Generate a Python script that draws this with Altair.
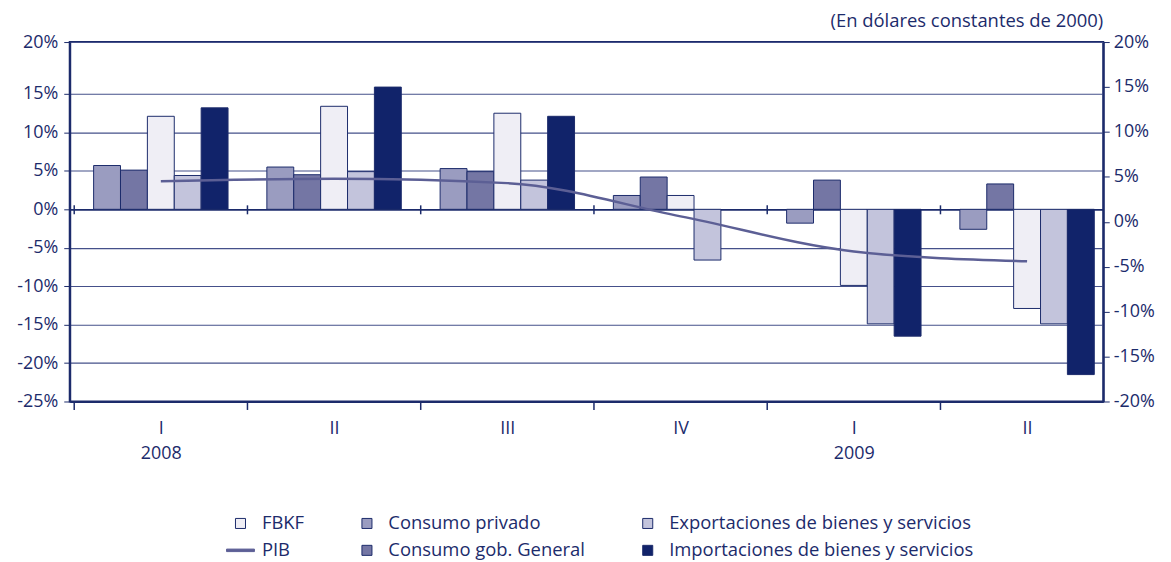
import altair as alt
import pandas as pd

# ---------------- data ----------------
quarters = ["I 2008", "II 2008", "III 2008", "IV 2008", "I 2009", "II 2009"]
consumo_privado = [5.7, 5.5, 5.3, 1.8, -1.8, -2.6]
consumo_gob = [5.1, 4.5, 4.9, 4.2, 3.8, 3.3]
fbkf = [12.1, 13.4, 12.5, 1.8, -9.9, -12.9]
exportaciones = [4.4, 4.9, 3.8, -6.6, -14.9, -14.9]
importaciones = [13.2, 15.9, 12.1, None, -16.5, -21.5]
pib = [4.5, 4.8, 4.3, 0.6, -3.3, -4.4]

S_FBKF = "FBKF"
S_CP = "Consumo privado"
S_EXP = "Exportaciones de bienes y servicios"
S_PIB = "PIB"
S_CG = "Consumo gob. General"
S_IMP = "Importaciones de bienes y servicios"

legend_order = [S_FBKF, S_CP, S_EXP, S_PIB, S_CG, S_IMP]
bar_order = [S_CP, S_CG, S_FBKF, S_EXP, S_IMP]
bar_values = {S_CP: consumo_privado, S_CG: consumo_gob, S_FBKF: fbkf,
              S_EXP: exportaciones, S_IMP: importaciones}

left_ticks = [-25, -20, -15, -10, -5, 0, 5, 10, 15, 21.76]
right_ticks = [-20, -15, -10, -5, 0, 5, 10, 15, 20]

# ---------------- styles ----------------
NAVY = "#1c2b6b"
PIB_COLOR = "#5c5f95"
FONT = "Open Sans"
FS = 18
fill_colors = ["#efeef5", "#9a9cc0", "#c3c4dc", PIB_COLOR, "#7476a4", "#11236a"]
stroke_colors = [NAVY, NAVY, NAVY, PIB_COLOR, NAVY, NAVY]
SQ = "M-0.36,-0.36L0.36,-0.36L0.36,0.36L-0.36,0.36Z"
LN = "M-1,-0.09L1,-0.09L1,0.09L-1,0.09Z"
shapes = [SQ, SQ, SQ, LN, SQ, SQ]

rows = []
for s in bar_order:
    for q, v in zip(quarters, bar_values[s]):
        if v is not None:
            rows.append({"trimestre": q, "serie": s, "valor": v})
df_bars = pd.DataFrame(rows)
df_pib = pd.DataFrame({"trimestre": quarters, "pib": pib, "serie": [S_PIB] * len(quarters)})
df_leg = pd.DataFrame({"serie": legend_order})

x_scale = alt.Scale(paddingInner=0.2241, paddingOuter=0.0948, align=0.727)
fill_scale = alt.Scale(domain=legend_order, range=fill_colors)
stroke_scale = alt.Scale(domain=legend_order, range=stroke_colors)
shape_scale = alt.Scale(domain=legend_order, range=shapes)


def make_legend():
    return alt.Legend(title=None, orient="none", legendX=157, legendY=469, columns=3,
                      direction="horizontal", columnPadding=48, rowPadding=3,
                      symbolSize=784, symbolStrokeWidth=1,
                      labelFontSize=18.5, labelColor=NAVY, labelFont=FONT, labelOffset=7,
                      labelLimit=400)


bars = alt.Chart(df_bars).mark_bar(strokeWidth=1).encode(
    x=alt.X("trimestre:N", sort=quarters, scale=x_scale,
            axis=alt.Axis(orient="bottom", title=None, labelAngle=0,
                          labelExpr="[split(datum.label,' ')[0], split(datum.label,' ')[0] == 'I' ? split(datum.label,' ')[1] : '']",
                          labelLineHeight=25, labelPadding=10, bandPosition=0,
                          tickOffset=-19.5, labelOffset=19.5, tickSize=8, tickColor=NAVY,
                          tickWidth=1.5, domainColor=NAVY, domainWidth=2,
                          labelColor=NAVY, labelFontSize=FS, labelFont=FONT, grid=False)),
    xOffset=alt.XOffset("serie:N", sort=bar_order,
                        scale=alt.Scale(domain=bar_order, paddingInner=0, paddingOuter=0)),
    y=alt.Y("valor:Q", scale=alt.Scale(domain=[-25, 21.76], nice=False, zero=False),
            axis=alt.Axis(orient="left", title=None, values=left_ticks,
                          labelExpr="datum.value > 19 ? '20%' : datum.value + '%'",
                          grid=True,
                          gridColor={"condition": {"test": "datum.value === 0", "value": NAVY}, "value": "#45508a"},
                          gridWidth={"condition": {"test": "datum.value === 0", "value": 1.8}, "value": 1.1},
                          tickSize=6, tickColor=NAVY, domainColor=NAVY, domainWidth=2,
                          labelColor=NAVY, labelFontSize=FS, labelFont=FONT, labelPadding=6)),
    fill=alt.Fill("serie:N", scale=fill_scale, legend=make_legend()),
    stroke=alt.Stroke("serie:N", scale=stroke_scale, legend=make_legend()),
)

line = alt.Chart(df_pib).mark_line(strokeWidth=2.5, interpolate="monotone").encode(
    x=alt.X("trimestre:N", sort=quarters, scale=x_scale,
            axis=alt.Axis(orient="bottom", offset=-197.5, labels=False, domain=False,
                          grid=False, ticks=True, tickSize=9, tickColor=NAVY, tickWidth=1.5,
                          bandPosition=0, tickOffset=-19.5, title=None)),
    y=alt.Y("pib:Q", scale=alt.Scale(domain=[-20, 20], nice=False, zero=False),
            axis=alt.Axis(orient="right", title=None, values=right_ticks,
                          labelExpr="datum.value + '%'", grid=False, tickSize=6,
                          tickColor=NAVY, domainColor=NAVY, domainWidth=2,
                          labelColor=NAVY, labelFontSize=FS, labelFont=FONT, labelPadding=4)),
    stroke=alt.Stroke("serie:N", scale=stroke_scale, legend=make_legend()),
)

pts = alt.Chart(df_leg).mark_point(filled=True, opacity=1, strokeWidth=1).encode(
    fill=alt.Fill("serie:N", scale=fill_scale, legend=make_legend()),
    stroke=alt.Stroke("serie:N", scale=stroke_scale, legend=make_legend()),
    shape=alt.Shape("serie:N", scale=shape_scale, legend=make_legend()),
).transform_filter("false")

chart = alt.layer(bars, alt.layer(line, pts)).resolve_scale(
    y="independent"
).resolve_axis(x="independent").properties(
    width=1038, height=361,
    autosize=alt.AutoSizeParams(type="none"),
    padding={"left": 62, "top": 33, "right": 60, "bottom": 158},
    title=alt.TitleParams("(En dólares constantes de 2000)", anchor="end", frame="group",
                          fontSize=18.5, font=FONT, color=NAVY, fontWeight="normal", offset=3),
).configure_view(stroke=NAVY, strokeWidth=2)

chart.save("out.html", embed_options={"renderer": "svg", "actions": False})
